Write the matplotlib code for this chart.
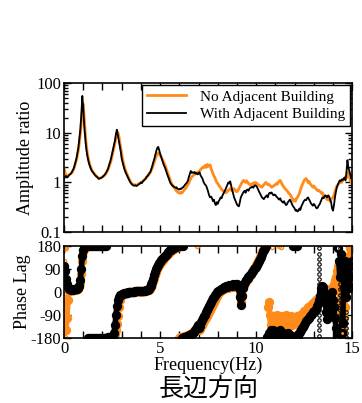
import numpy as np
import matplotlib
matplotlib.use("Agg")
import matplotlib.pyplot as plt
import matplotlib.ticker as ticker

plt.rcParams['font.family'] = ['Liberation Serif', 'DejaVu Serif']
plt.rcParams['axes.unicode_minus'] = False
plt.rcParams['xtick.direction'] = 'in'
plt.rcParams['ytick.direction'] = 'in'

# frequency grid, 0.05 Hz step, 0 .. 15 Hz
freq = np.round(np.arange(301) * 0.05, 2)

# amplitude ratio, with adjacent building (black)
amp_with = [
    1.15, 1.3, 1.35, 1.25, 1.3, 1.4, 1.45, 1.5, 1.6, 1.75, 1.9, 2.2, 2.6, 3.1, 4.0, 5.2, 8.0, 12, 24, 55,
    30, 14, 8.0, 5.0, 3.6, 2.9, 2.4, 2.1, 1.85, 1.7, 1.6, 1.5, 1.42, 1.35, 1.3, 1.25, 1.18, 1.2, 1.22, 1.25,
    1.28, 1.35, 1.4, 1.5, 1.6, 1.75, 1.95, 2.3, 2.6, 3.1, 3.8, 4.6, 5.6, 7.0, 9.5, 11.5, 9.0, 7.0, 5.5, 4.2,
    3.0, 2.5, 2.1, 1.8, 1.6, 1.45, 1.3, 1.2, 1.1, 1.0, 0.95, 0.9, 0.87, 0.86, 0.88, 0.85, 0.86, 0.9, 0.92, 0.95,
    1.0, 0.97, 1.05, 1.1, 1.15, 1.2, 1.3, 1.35, 1.45, 1.55, 1.65, 1.9, 2.2, 2.6, 3.0, 3.6, 4.3, 4.9, 5.2, 4.5,
    3.8, 3.3, 2.9, 2.5, 2.2, 2.0, 1.75, 1.55, 1.35, 1.2, 1.05, 0.95, 0.9, 0.85, 0.83, 0.8, 0.78, 0.8, 0.75, 0.73,
    0.72, 0.75, 0.74, 0.78, 0.8, 0.85, 0.9, 0.95, 1.0, 1.1, 1.3, 1.5, 1.7, 1.55, 1.6, 1.55, 1.62, 1.5, 1.55, 1.45,
    1.5, 1.6, 1.4, 1.3, 1.2, 1.05, 0.95, 0.9, 0.85, 0.75, 0.65, 0.55, 0.5, 0.52, 0.48, 0.42, 0.45, 0.38, 0.35, 0.4,
    0.37, 0.42, 0.45, 0.5, 0.48, 0.55, 0.6, 0.65, 0.72, 0.8, 0.9, 1.0, 0.95, 1.05, 0.85, 0.7, 0.6, 0.5, 0.45, 0.4,
    0.36, 0.34, 0.33, 0.4, 0.5, 0.55, 0.6, 0.65, 0.68, 0.62, 0.7, 0.72, 0.68, 0.75, 0.78, 0.8, 0.82, 0.78, 0.85, 0.88,
    0.85, 0.8, 0.72, 0.65, 0.6, 0.55, 0.5, 0.48, 0.46, 0.5, 0.52, 0.55, 0.5, 0.58, 0.62, 0.6, 0.63, 0.58, 0.55, 0.57,
    0.56, 0.52, 0.5, 0.47, 0.45, 0.48, 0.43, 0.41, 0.39, 0.42, 0.38, 0.35, 0.36, 0.4, 0.42, 0.45, 0.42, 0.38, 0.34, 0.32,
    0.3, 0.27, 0.28, 0.26, 0.27, 0.3, 0.28, 0.33, 0.36, 0.4, 0.43, 0.45, 0.44, 0.48, 0.5, 0.46, 0.42, 0.38, 0.36, 0.34,
    0.37, 0.35, 0.32, 0.3, 0.31, 0.34, 0.36, 0.4, 0.45, 0.5, 0.48, 0.52, 0.55, 0.53, 0.5, 0.55, 0.52, 0.45, 0.4, 0.3,
    0.27, 0.35, 0.5, 0.65, 0.8, 0.9, 1.0, 1.1, 1.05, 1.15, 1.1, 1.2, 1.25, 1.1, 1.6, 2.8, 2.0, 1.7, 1.45, 1.2,
    1.4,
]

# amplitude ratio, no adjacent building (orange)
amp_no = [
    1.9, 1.6, 1.4, 1.3, 1.35, 1.4, 1.45, 1.5, 1.55, 1.7, 1.85, 2.1, 2.5, 2.9, 3.6, 4.6, 6.5, 9.5, 16, 28,
    38, 20, 10, 6.0, 4.2, 3.2, 2.6, 2.2, 1.95, 1.75, 1.65, 1.55, 1.45, 1.38, 1.32, 1.27, 1.22, 1.2, 1.23, 1.26,
    1.3, 1.33, 1.38, 1.45, 1.55, 1.7, 1.85, 2.1, 2.4, 2.8, 3.4, 4.1, 5.0, 6.2, 7.8, 9.5, 10.2, 8.5, 6.5, 5.0,
    3.7, 2.9, 2.4, 2.0, 1.75, 1.55, 1.4, 1.27, 1.15, 1.05, 0.98, 0.93, 0.9, 0.88, 0.9, 0.87, 0.88, 0.92, 0.95, 0.97,
    1.0, 1.02, 1.05, 1.1, 1.15, 1.2, 1.28, 1.35, 1.42, 1.5, 1.62, 1.8, 2.0, 2.3, 2.6, 3.0, 3.4, 3.7, 3.9, 3.8,
    3.5, 3.3, 3.0, 2.7, 2.5, 2.25, 2.0, 1.75, 1.55, 1.35, 1.2, 1.05, 0.95, 0.88, 0.82, 0.78, 0.72, 0.68, 0.65, 0.62,
    0.62, 0.6, 0.63, 0.62, 0.66, 0.7, 0.74, 0.78, 0.85, 0.9, 1.0, 1.1, 1.2, 1.3, 1.35, 1.4, 1.45, 1.5, 1.55, 1.6,
    1.65, 1.7, 1.8, 1.9, 2.0, 1.95, 2.1, 2.2, 2.0, 2.3, 2.1, 2.2, 2.25, 1.9, 1.7, 1.5, 1.35, 1.25, 1.1, 1.0,
    0.95, 0.88, 0.82, 0.78, 0.72, 0.7, 0.66, 0.65, 0.62, 0.63, 0.66, 0.7, 0.72, 0.75, 0.7, 0.68, 0.72, 0.75, 0.7, 0.66,
    0.65, 0.7, 0.75, 0.82, 0.9, 0.98, 1.05, 1.1, 1.05, 1.0, 1.08, 1.02, 0.95, 0.92, 0.88, 0.9, 0.95, 0.92, 0.98, 1.0,
    0.98, 0.95, 0.9, 0.88, 0.85, 0.82, 0.8, 0.85, 0.9, 0.95, 1.0, 0.95, 0.9, 0.92, 0.88, 0.85, 0.8, 0.82, 0.85, 0.88,
    0.9, 0.95, 0.92, 1.0, 1.05, 1.1, 1.0, 0.92, 0.85, 0.8, 0.75, 0.72, 0.68, 0.65, 0.6, 0.58, 0.55, 0.5, 0.45, 0.42,
    0.45, 0.42, 0.48, 0.5, 0.55, 0.6, 0.7, 0.8, 0.9, 1.0, 1.1, 1.15, 1.2, 1.1, 1.0, 1.05, 0.95, 0.9, 0.85, 0.8,
    0.85, 0.8, 0.75, 0.72, 0.68, 0.7, 0.66, 0.65, 0.6, 0.62, 0.55, 0.5, 0.52, 0.48, 0.45, 0.48, 0.44, 0.42, 0.45, 0.48,
    0.5, 0.55, 0.65, 0.75, 0.85, 0.9, 0.95, 1.0, 1.05, 1.0, 1.1, 1.15, 1.2, 1.3, 1.25, 1.4, 1.6, 1.3, 1.1, 1.0,
    0.95,
]

# phase lag (deg), with adjacent building (black)
ph_with = [
    100, 80, 50, 30, 18, 12, 10, 8, 8, 9, 10, 10, 11, 12, 14, 18, 25, 45, 90, 140,
    165, 172, 176, 178, 179, -179, 179, -178, 178, -179, 179, -178, 179, -179, 178, -178, 179, -179, 178, -178,
    179, -179, 178, -178, 179, -178, -177, -178, -176, -177, -176, -174, -160, -130, -90, -55, -30, -18, -12, -10,
    -8, -6, -5, -5, -4, -3, -3, -2, -2, -1, 0, 0, 1, 1, 2, 2, 3, 3, 4, 5,
    2, 3, 3, 4, 5, 6, 7, 9, 12, 18, 25, 32, 40, 52, 65, 78, 90, 98, 105, 112,
    118, 123, 128, 132, 138, 142, 146, 150, 154, 158, 162, 165, 168, 170, 172, 174, 176, 177, 178, 178,
    179, 180, 179, -178, 179, -177, -176, -175, -172, -170, -168, -170, -165, -162, -160, -155, -150, -145, -138, -130,
    -140, -132, -125, -118, -110, -102, -95, -88, -80, -72, -64, -56, -48, -40, -32, -25, -18, -12, -6, -2,
    2, 5, 8, 10, 12, 14, 16, 18, 20, 22, 20, 24, 26, 22, 28, 25, 30, 26, 28, 30,
    30, 25, 15, -20, -50, -15, 15, 30, 40, 45, 50, 55, 60, 62, 68, 72, 78, 82, 88, 92,
    98, 105, 112, 120, 128, 138, 148, 158, 165, 172, 178, -175, -170, -160, -165, -150, -170, -160, -150, -165,
    -155, -170, -160, -175, -165, -150, -170, -175, -160, -178, -165, -175, -170, -160, -175, -168, -178, -172, 178, -176,
    179, -178, 178, -175, -170, -160, -155, -150, -142, -135, -130, -122, -115, -110, -105, -100, -95, -90, -85, -80,
    -76, -74, -65, -55, -45, -30, -15, 0, 15, 25, 20, 0, -40, -80, -105, -90, -60, -40, -20, 0,
    -30, -60, -100, -140, -175, 170, 120, 60, 150, -160, -120, 20, 120, 80, -20, 30, 110, 60, 20, 80,
    120,
]

# phase lag (deg), no adjacent building (orange)
ph_no = [
    175, -60, -150, -100, -30, 5, 8, 6, 6, 7, 8, 8, 9, 10, 12, 15, 20, 35, 70, 120,
    155, 168, 174, 177, 178, 179, -179, 179, -179, 178, -178, 179, -179, 178, -178, 179, -179, 178, -178, 179,
    -179, 178, -178, 179, -178, -178, -177, -177, -176, -176, -175, -174, -172, -165, -150, -125, -95, -60, -30, -15,
    -10, -8, -6, -5, -5, -4, -3, -3, -2, -2, -1, 0, 0, 1, 1, 2, 2, 3, 3, 4,
    1, 2, 2, 3, 4, 5, 6, 7, 9, 13, 18, 24, 32, 42, 54, 66, 78, 88, 96, 104,
    110, 116, 121, 126, 131, 136, 140, 144, 148, 152, 156, 160, 163, 166, 169, 171, 173, 175, 177, 178,
    -179, -178, -177, -176, -175, -174, -173, -172, -170, -168, -166, -164, -162, -160, -157, -154, -150, -146, -142, -138,
    -150, -145, -140, -134, -128, -121, -114, -107, -100, -93, -86, -78, -70, -62, -54, -46, -38, -30, -22, -15,
    -8, -2, 2, 5, 8, 10, 12, 14, 15, 17, 18, 16, 19, 20, 18, 22, 20, 24, 25, 22,
    20, 18, 10, -15, -40, -10, 15, 28, 35, 42, 48, 52, 57, 62, 67, 72, 78, 85, 92, 98,
    105, 112, 120, 128, 136, 145, 155, 163, 170, 176, 179, -175, -60, -40, -90, -130, -100, -140, -95, -125,
    -100, -135, -90, -120, -105, -140, -95, -115, -130, -100, -125, -90, -110, -135, -100, -120, -95, -130, -105, -115,
    -100, -125, -110, -95, -120, -100, -90, -105, -85, -95, -75, -85, -70, -80, -60, -70, -55, -60, -45, -50,
    -40, -35, -30, -35, -25, -20, -25, -15, -20, -10, -15, -5, -10, 0, -5, 5, 0, 10, 5, 15,
    20, 30, 45, 60, 80, 100, 60, -40, -120, -170, -150, -100, -60, -20, 20, 60, 100, 140, 170, 120,
    100,
]

# scattered points where the phase wraps around
sp_with_f = [13.25] * 18 + [14.35] * 18 + [14.7] * 6
sp_with_ph = [-170, -150, -130, -110, -90, -70, -50, -30, -10, 10, 30, 50, 70, 90, 110, 130, 150, 170,
              -170, -150, -130, -110, -90, -70, -50, -30, -10, 10, 30, 50, 70, 90, 110, 130, 150, 170,
              -175, -160, -140, -120, -100, -80]
sp_no_f = [0.0, 0.0, 0.0, 0.0, 0.02, 0.02, 0.02, 0.02, 0.05, 0.05, 6.9, 10.3, 10.35, 10.6, 10.8, 11.2, 11.3]
sp_no_ph = [175, 120, 60, -20, -60, -90, -120, -150, -175, -100, 178, 178, 178, 178, 176, 178, 177]

orange = '#ff8c1a'


def break_wraps(ph):
    # hide the connecting segment where the phase wraps from +180 to -180
    ph = np.array(ph, dtype=float)
    jump = np.abs(np.diff(ph)) > 180
    seg = ph.copy()
    seg[1:][jump] = np.nan
    return seg


fig = plt.figure(figsize=(3.62, 4.03), dpi=100)
ax1 = fig.add_axes([0.177, 0.424, 0.796, 0.370])
ax2 = fig.add_axes([0.177, 0.161, 0.796, 0.229])

ax1.plot(freq, amp_no, color=orange, lw=2.0, label='No Adjacent Building')
ax1.plot(freq, amp_with, color='black', lw=1.3, label='With Adjacent Building')
ax1.set_yscale('log')
ax1.set_xlim(0, 15)
ax1.set_ylim(0.1, 100)
ax1.yaxis.set_major_formatter(ticker.FuncFormatter(lambda v, p: '%g' % v))
ax1.xaxis.set_major_locator(ticker.MultipleLocator(1))
ax1.tick_params(axis='x', labelbottom=False)
ax1.set_ylabel('Amplitude ratio', fontsize=13, labelpad=2)
leg = ax1.legend(loc='upper right', fontsize=11, frameon=True, fancybox=False,
                 edgecolor='black', framealpha=1, borderaxespad=0.15, handlelength=2.6,
                 handletextpad=0.9, labelspacing=0.25, borderpad=0.3)
leg.get_frame().set_linewidth(1.0)

ax2.plot(freq, break_wraps(ph_no), '-', color=orange, lw=4)
ax2.plot(freq, ph_no, 'o', ms=4.5, mfc='none', mec=orange, mew=2.2)
ax2.plot(sp_no_f, sp_no_ph, 'o', ms=3, mfc='none', mec=orange, mew=1.0)
ax2.plot(freq, break_wraps(ph_with), '-', color='black', lw=4)
ax2.plot(freq, ph_with, 'o', ms=4.5, mfc='none', mec='black', mew=2.2)
ax2.plot(sp_with_f, sp_with_ph, 'o', ms=2.5, mfc='none', mec='black', mew=0.8)
ax2.set_xlim(0, 15)
ax2.set_ylim(-180, 180)
ax2.set_yticks([-180, -90, 0, 90, 180])
ax2.xaxis.set_major_locator(ticker.MultipleLocator(5))
ax2.xaxis.set_minor_locator(ticker.MultipleLocator(1))
ax2.set_ylabel('Phase Lag', fontsize=13, labelpad=0)
ax2.set_xlabel('Frequency(Hz)', fontsize=13, labelpad=0)

for ax in (ax1, ax2):
    ax.tick_params(which='both', top=True, right=True, labelsize=12, pad=2)
    ax.tick_params(which='major', length=5, width=1)
    ax.tick_params(which='minor', length=5 if ax is ax2 else 3, width=1)
    for s in ax.spines.values():
        s.set_linewidth(1.2)

fig.text(0.575, 0.036, '長辺方向', fontsize=18, ha='center', va='center',
         family=['Noto Sans CJK JP', 'DejaVu Sans'])

fig.savefig('out.png', dpi=100)
